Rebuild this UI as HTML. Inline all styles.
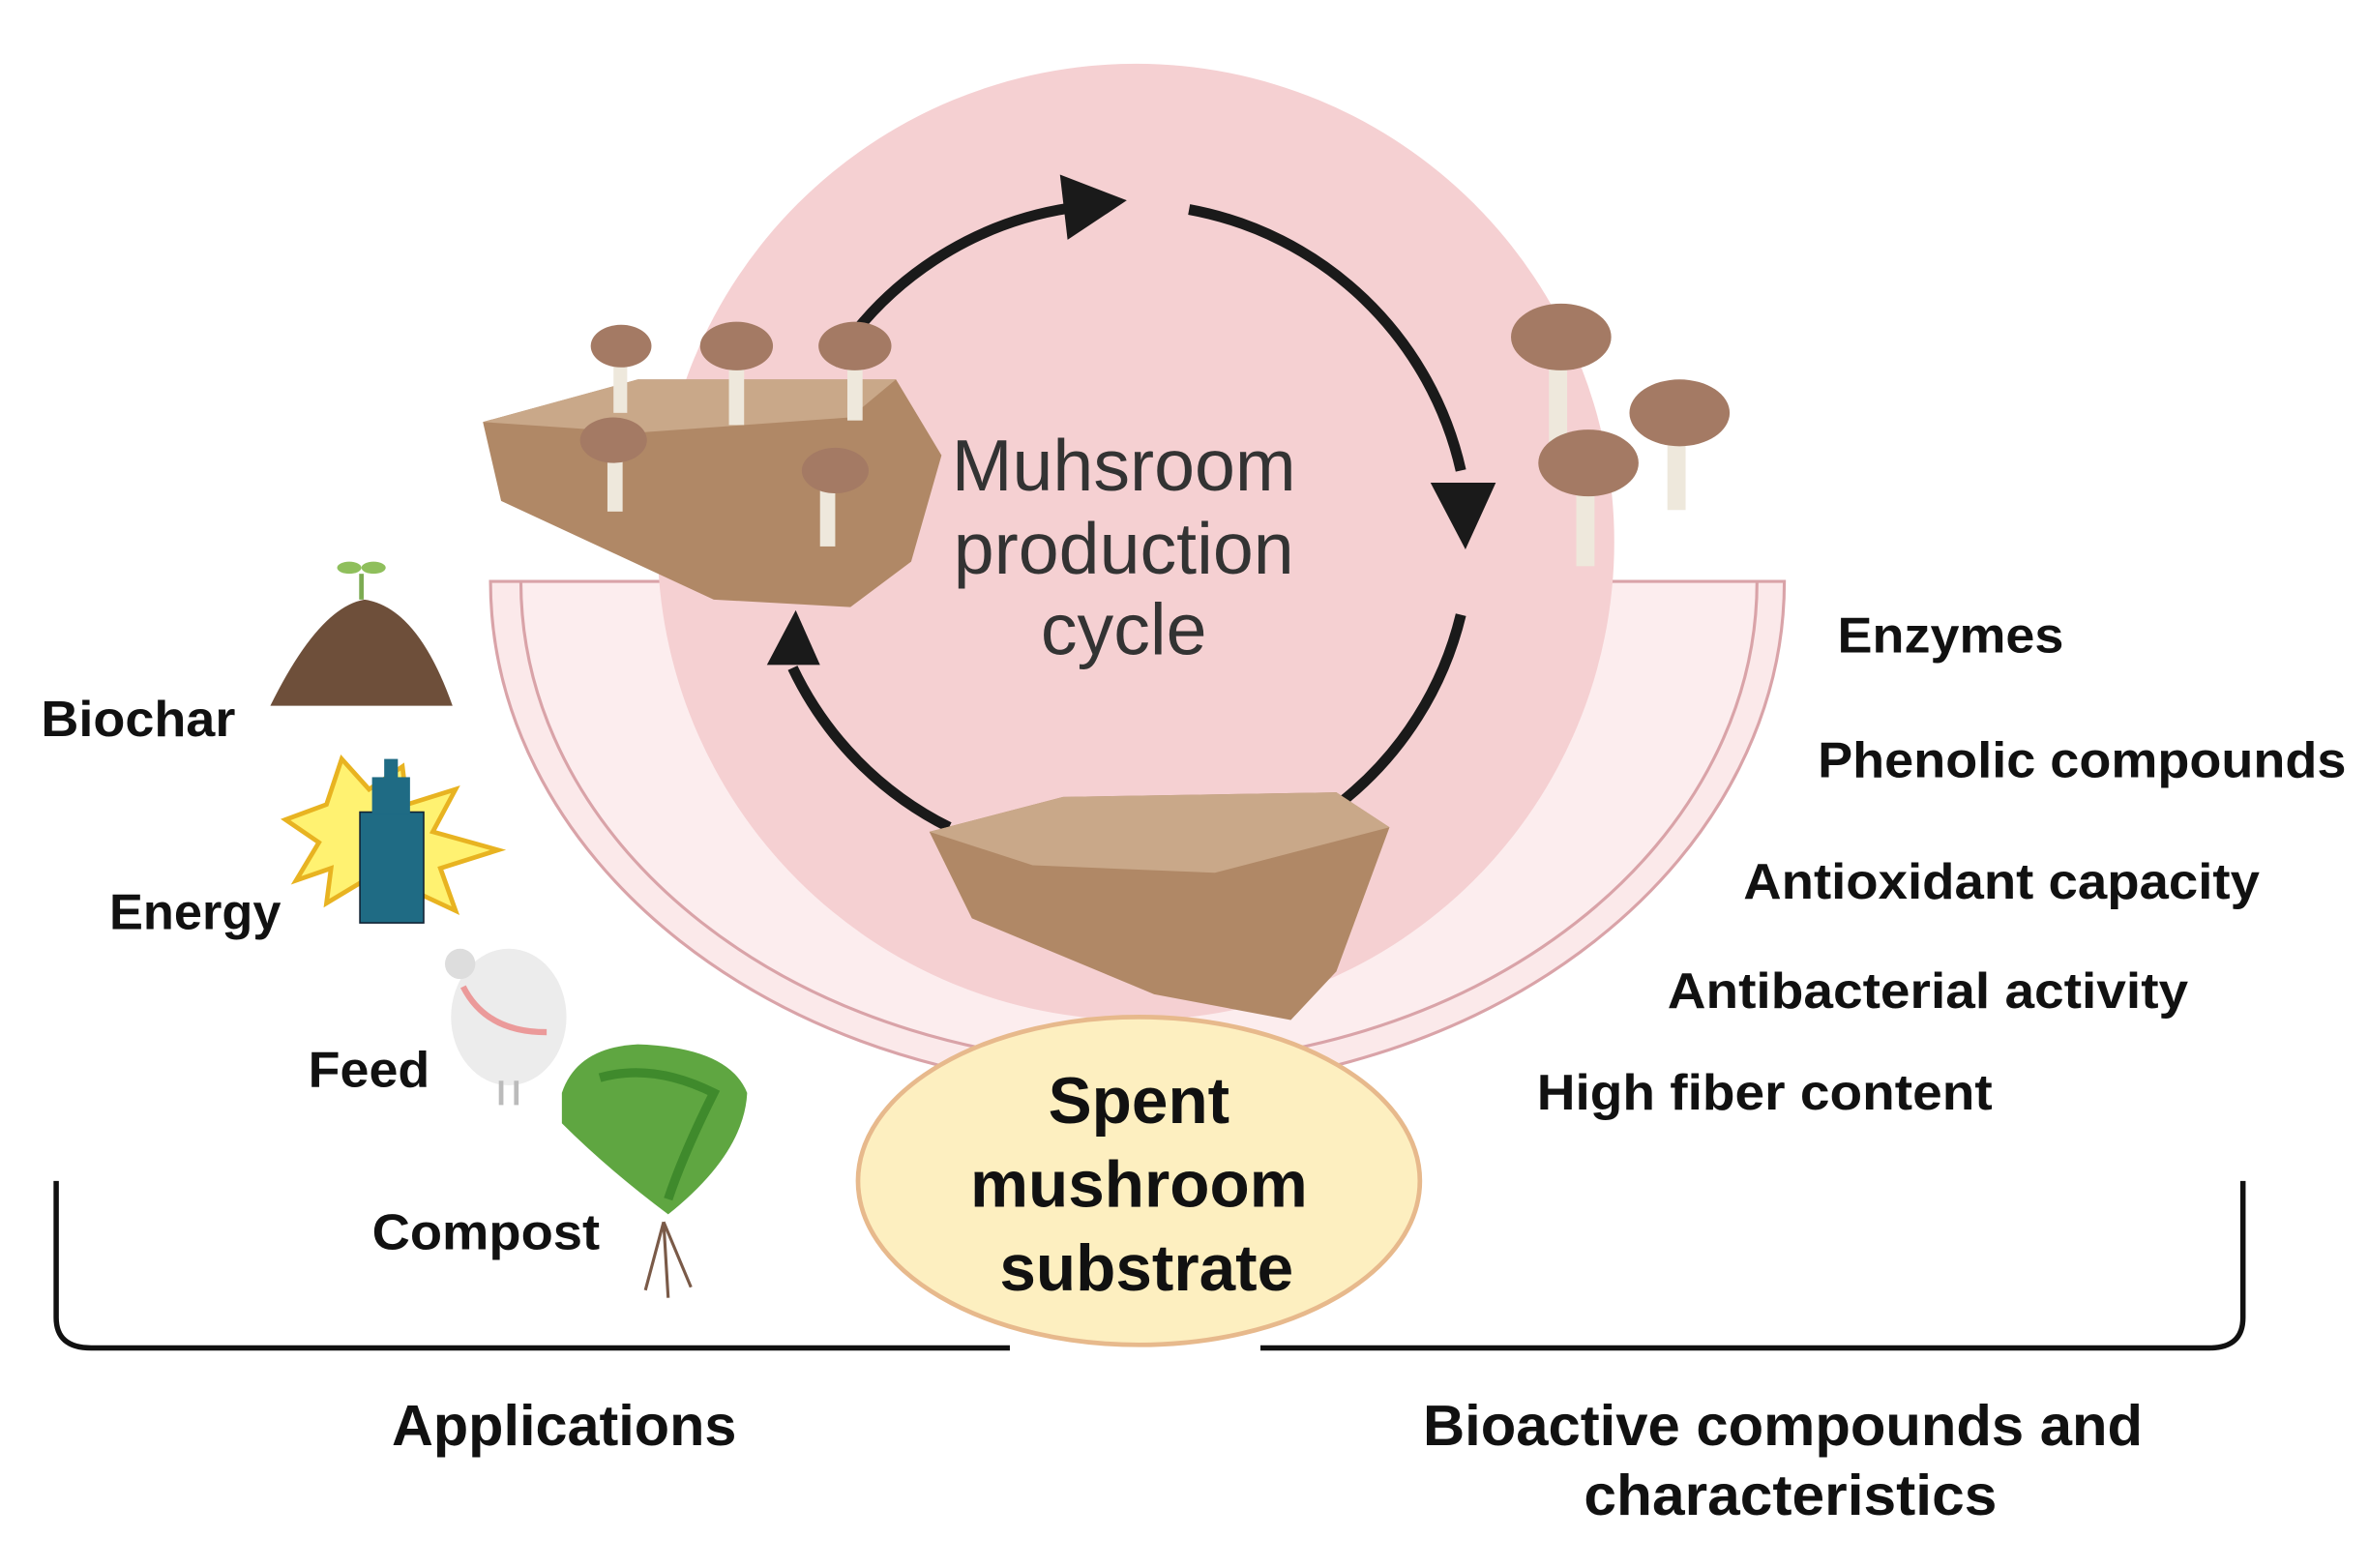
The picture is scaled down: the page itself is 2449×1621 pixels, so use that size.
<!DOCTYPE html>
<html><head><meta charset="utf-8"><style>html,body{margin:0;padding:0;background:#fff}svg{display:block}</style></head><body>
<svg width="2449" height="1621" viewBox="0 0 1560 1033" preserveAspectRatio="none" xmlns="http://www.w3.org/2000/svg" font-family="Liberation Sans, sans-serif">
<rect width="1560" height="1033" fill="#fff"/>
<path d="M323 383 L1175 383 A426 335 0 0 1 749 718 A426 335 0 0 1 323 383 Z" fill="#fbe9ea" stroke="#d9a3a8" stroke-width="2"/>
<path d="M343 383 L1157 383 A407 318 0 0 1 749 701 A407 318 0 0 1 343 383 Z" fill="#fcedee" stroke="#d9a3a8" stroke-width="2"/>
<circle cx="748" cy="357" r="315" fill="#f5d0d2"/>
<g fill="none" stroke="#1a1a1a" stroke-width="7">
<path d="M548 240 A225 225 0 0 1 705 137"/>
<path d="M783 138 A225 225 0 0 1 962 310"/>
<path d="M962 405 A225 225 0 0 1 885 527"/>
<path d="M625 545 A225 225 0 0 1 522 440"/>
</g>
<g fill="#1a1a1a">
<polygon points="698,115 742,132 703,158"/>
<polygon points="942,318 985,318 965,362"/>
<polygon points="505,438 540,438 524,402"/>
</g>
<polygon points="318,278 420,250 590,250 620,300 600,370 560,400 470,395 330,330" fill="#b08866"/>
<polygon points="318,278 420,250 590,250 560,275 420,285" fill="#c9a889"/>
<g>
<rect x="404" y="232" width="9" height="40" fill="#eee8dc"/><ellipse cx="409" cy="228" rx="20" ry="14" fill="#a47a64"/>
<rect x="480" y="232" width="10" height="48" fill="#eee8dc"/><ellipse cx="485" cy="228" rx="24" ry="16" fill="#a47a64"/>
<rect x="558" y="232" width="10" height="45" fill="#eee8dc"/><ellipse cx="563" cy="228" rx="24" ry="16" fill="#a47a64"/>
<rect x="400" y="295" width="10" height="42" fill="#eee8dc"/><ellipse cx="404" cy="290" rx="22" ry="15" fill="#a47a64"/>
<rect x="540" y="315" width="10" height="45" fill="#eee8dc"/><ellipse cx="550" cy="310" rx="22" ry="15" fill="#a47a64"/>
</g>
<g>
<rect x="1020" y="225" width="12" height="70" fill="#eee8dc"/><ellipse cx="1028" cy="222" rx="33" ry="22" fill="#a47a64"/>
<rect x="1098" y="278" width="12" height="58" fill="#eee8dc"/><ellipse cx="1106" cy="272" rx="33" ry="22" fill="#a47a64"/>
<rect x="1038" y="308" width="12" height="65" fill="#eee8dc"/><ellipse cx="1046" cy="305" rx="33" ry="22" fill="#a47a64"/>
</g>
<polygon points="612,548 700,525 880,522 915,545 880,640 850,672 760,655 640,605" fill="#b08866"/>
<polygon points="612,548 700,525 880,522 915,545 800,575 680,570" fill="#c9a889"/>
<ellipse cx="750" cy="778" rx="185" ry="108" fill="#fdefc0" stroke="#e7b98c" stroke-width="3"/>
<g font-weight="bold" font-size="43" fill="#111" text-anchor="middle">
<text x="750" y="740">Spent</text><text x="750" y="795">mushroom</text><text x="755" y="850">substrate</text>
</g>
<g font-size="48" fill="#333" text-anchor="middle">
<text x="740" y="323">Muhsroom</text><text x="740" y="378">production</text><text x="740" y="431">cycle</text>
</g>
<path d="M37 778 L37 868 Q37 888 60 888 L665 888" fill="none" stroke="#111" stroke-width="3.5"/>
<path d="M830 888 L1455 888 Q1477 888 1477 868 L1477 778" fill="none" stroke="#111" stroke-width="3.5"/>
<path d="M178 465 Q210 400 240 395 Q275 400 298 465 Z" fill="#6e4f3a"/>
<path d="M238 395 L238 378" stroke="#7cab52" stroke-width="3"/>
<ellipse cx="230" cy="374" rx="8" ry="4" fill="#8fbf5c"/><ellipse cx="246" cy="374" rx="8" ry="4" fill="#8fbf5c"/>
<polygon points="188,540 215,530 225,500 243,520 265,505 268,530 300,520 285,548 328,560 290,572 300,600 268,585 255,605 240,580 215,595 218,572 195,580 210,555" fill="#fff271" stroke="#e8b321" stroke-width="3"/>
<rect x="237" y="535" width="42" height="73" fill="#1f6b84" stroke="#123" stroke-width="1"/>
<rect x="245" y="512" width="25" height="24" fill="#1f6b84"/><rect x="253" y="500" width="9" height="13" fill="#1f6b84"/>
<ellipse cx="335" cy="670" rx="38" ry="45" fill="#ececec"/><circle cx="303" cy="635" r="10" fill="#ddd"/>
<path d="M330 712 L330 728 M340 712 L340 728" stroke="#bbb" stroke-width="3"/>
<path d="M305 650 Q320 680 360 680" stroke="#eb9a9a" stroke-width="4" fill="none"/>
<path d="M370 720 Q380 690 420 688 Q480 690 492 720 Q490 760 440 800 Q400 770 370 740 Z" fill="#5fa641"/>
<path d="M395 710 Q430 700 470 720 Q450 760 440 790" stroke="#3f8a2c" stroke-width="6" fill="none"/>
<path d="M437 805 L425 850 M437 805 L440 855 M437 805 L455 848" stroke="#7a5a48" stroke-width="2"/>
<g font-weight="bold" font-size="33" fill="#111">
<text x="27" y="485" textLength="128" lengthAdjust="spacingAndGlyphs">Biochar</text>
<text x="72" y="612" textLength="113" lengthAdjust="spacingAndGlyphs">Energy</text>
<text x="203" y="716" textLength="80" lengthAdjust="spacingAndGlyphs">Feed</text>
<text x="245" y="823" textLength="150" lengthAdjust="spacingAndGlyphs">Compost</text>
<text x="1210" y="430" textLength="149" lengthAdjust="spacingAndGlyphs">Enzymes</text>
<text x="1197" y="512" textLength="348" lengthAdjust="spacingAndGlyphs">Phenolic compounds</text>
<text x="1148" y="592" textLength="340" lengthAdjust="spacingAndGlyphs">Antioxidant capacity</text>
<text x="1098" y="664" textLength="343" lengthAdjust="spacingAndGlyphs">Antibacterial activity</text>
<text x="1012" y="731" textLength="300" lengthAdjust="spacingAndGlyphs">High fiber content</text>
</g>
<g font-weight="bold" font-size="38" fill="#111">
<text x="258" y="952" textLength="227" lengthAdjust="spacingAndGlyphs">Applications</text>
<text x="937" y="952" textLength="474" lengthAdjust="spacingAndGlyphs">Bioactive compounds and</text>
<text x="1043" y="998" textLength="272" lengthAdjust="spacingAndGlyphs">characteristics</text>
</g>
</svg>
</body></html>
